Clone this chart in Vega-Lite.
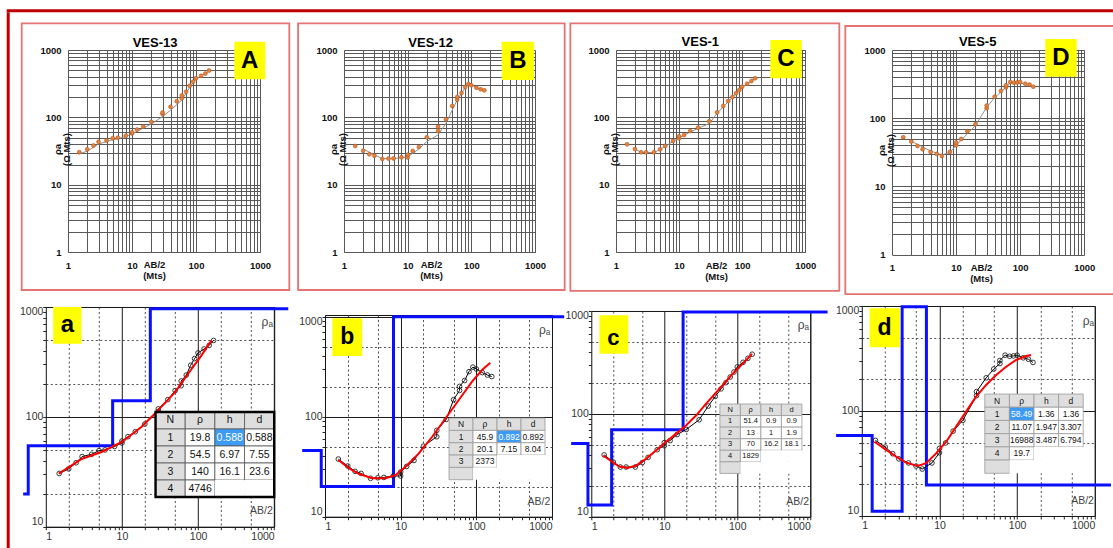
{
"$schema": "https://vega.github.io/schema/vega-lite/v6.json",
"padding": {"left": 6.7, "top": 9.3, "right": 0, "bottom": 0},
"background": "white",
"config": {"view": {"stroke": null}, "font": "Liberation Sans"},
"datasets": {
"obs": [
{"ves":"VES-13","ab2":1.5,"rho":30.5},{"ves":"VES-13","ab2":2,"rho":33.6},{"ves":"VES-13","ab2":2.5,"rho":38.2},{"ves":"VES-13","ab2":3,"rho":43.5},{"ves":"VES-13","ab2":4,"rho":45.6},{"ves":"VES-13","ab2":5,"rho":49.3},{"ves":"VES-13","ab2":6,"rho":50},{"ves":"VES-13","ab2":8,"rho":53.7},{"ves":"VES-13","ab2":10,"rho":57.8},{"ves":"VES-13","ab2":10,"rho":60.3},{"ves":"VES-13","ab2":12,"rho":66},{"ves":"VES-13","ab2":15,"rho":73.3},{"ves":"VES-13","ab2":20,"rho":86},{"ves":"VES-13","ab2":30,"rho":112},{"ves":"VES-13","ab2":30,"rho":118},{"ves":"VES-13","ab2":40,"rho":143.5},{"ves":"VES-13","ab2":50,"rho":173.5},{"ves":"VES-13","ab2":60,"rho":192},{"ves":"VES-13","ab2":60,"rho":212},{"ves":"VES-13","ab2":70,"rho":240},{"ves":"VES-13","ab2":80,"rho":295},{"ves":"VES-13","ab2":90,"rho":339},{"ves":"VES-13","ab2":100,"rho":382},{"ves":"VES-13","ab2":120,"rho":415},{"ves":"VES-13","ab2":140,"rho":447},{"ves":"VES-13","ab2":160,"rho":496},
{"ves":"VES-12","ab2":1.5,"rho":37.7},{"ves":"VES-12","ab2":2,"rho":32.1},{"ves":"VES-12","ab2":2.5,"rho":28.4},{"ves":"VES-12","ab2":3,"rho":27.1},{"ves":"VES-12","ab2":4,"rho":24.2},{"ves":"VES-12","ab2":5,"rho":24.5},{"ves":"VES-12","ab2":6,"rho":24.7},{"ves":"VES-12","ab2":8,"rho":25.6},{"ves":"VES-12","ab2":10,"rho":25.5},{"ves":"VES-12","ab2":10,"rho":28},{"ves":"VES-12","ab2":12,"rho":31.8},{"ves":"VES-12","ab2":15,"rho":36.5},{"ves":"VES-12","ab2":20,"rho":50.7},{"ves":"VES-12","ab2":30,"rho":63},{"ves":"VES-12","ab2":30,"rho":73},{"ves":"VES-12","ab2":40,"rho":93.8},{"ves":"VES-12","ab2":50,"rho":148},{"ves":"VES-12","ab2":60,"rho":183},{"ves":"VES-12","ab2":60,"rho":201},{"ves":"VES-12","ab2":70,"rho":230},{"ves":"VES-12","ab2":80,"rho":282},{"ves":"VES-12","ab2":90,"rho":313},{"ves":"VES-12","ab2":100,"rho":300},{"ves":"VES-12","ab2":120,"rho":276},{"ves":"VES-12","ab2":140,"rho":261},{"ves":"VES-12","ab2":160,"rho":252},
{"ves":"VES-1","ab2":1.5,"rho":39.9},{"ves":"VES-1","ab2":2,"rho":34},{"ves":"VES-1","ab2":2.5,"rho":30.4},{"ves":"VES-1","ab2":3,"rho":30.4},{"ves":"VES-1","ab2":4,"rho":30.4},{"ves":"VES-1","ab2":5,"rho":33.6},{"ves":"VES-1","ab2":6,"rho":37.7},{"ves":"VES-1","ab2":8,"rho":44.8},{"ves":"VES-1","ab2":10,"rho":49},{"ves":"VES-1","ab2":10,"rho":52.5},{"ves":"VES-1","ab2":12,"rho":54.9},{"ves":"VES-1","ab2":15,"rho":62.9},{"ves":"VES-1","ab2":20,"rho":70.5},{"ves":"VES-1","ab2":30,"rho":87.5},{"ves":"VES-1","ab2":40,"rho":119},{"ves":"VES-1","ab2":50,"rho":148},{"ves":"VES-1","ab2":60,"rho":175},{"ves":"VES-1","ab2":70,"rho":201},{"ves":"VES-1","ab2":80,"rho":228},{"ves":"VES-1","ab2":90,"rho":255},{"ves":"VES-1","ab2":100,"rho":286},{"ves":"VES-1","ab2":120,"rho":317},{"ves":"VES-1","ab2":140,"rho":347},{"ves":"VES-1","ab2":160,"rho":380},
{"ves":"VES-5","ab2":1.5,"rho":52.5},{"ves":"VES-5","ab2":2,"rho":45.4},{"ves":"VES-5","ab2":2.5,"rho":39.2},{"ves":"VES-5","ab2":3,"rho":35},{"ves":"VES-5","ab2":4,"rho":32},{"ves":"VES-5","ab2":5,"rho":29.9},{"ves":"VES-5","ab2":6,"rho":28},{"ves":"VES-5","ab2":8,"rho":32},{"ves":"VES-5","ab2":10,"rho":40},{"ves":"VES-5","ab2":10,"rho":44},{"ves":"VES-5","ab2":12,"rho":49.6},{"ves":"VES-5","ab2":15,"rho":64.3},{"ves":"VES-5","ab2":20,"rho":81.5},{"ves":"VES-5","ab2":30,"rho":140},{"ves":"VES-5","ab2":30,"rho":153},{"ves":"VES-5","ab2":40,"rho":207},{"ves":"VES-5","ab2":50,"rho":251},{"ves":"VES-5","ab2":60,"rho":283},{"ves":"VES-5","ab2":60,"rho":303},{"ves":"VES-5","ab2":70,"rho":340},{"ves":"VES-5","ab2":80,"rho":332},{"ves":"VES-5","ab2":90,"rho":335},{"ves":"VES-5","ab2":100,"rho":340},{"ves":"VES-5","ab2":120,"rho":321},{"ves":"VES-5","ab2":140,"rho":311},{"ves":"VES-5","ab2":160,"rho":290}
],
"tfit": [
{"ves":"VES-13","ab2":1.45,"rho":28.7},{"ves":"VES-13","ab2":2,"rho":31.5},{"ves":"VES-13","ab2":3,"rho":40.3},{"ves":"VES-13","ab2":4.7,"rho":46},{"ves":"VES-13","ab2":8,"rho":52},{"ves":"VES-13","ab2":10,"rho":57},{"ves":"VES-13","ab2":20,"rho":80},{"ves":"VES-13","ab2":30,"rho":103},{"ves":"VES-13","ab2":40,"rho":128},{"ves":"VES-13","ab2":60,"rho":181},{"ves":"VES-13","ab2":80,"rho":280},{"ves":"VES-13","ab2":100,"rho":372},{"ves":"VES-13","ab2":120,"rho":410},{"ves":"VES-13","ab2":160,"rho":482},
{"ves":"VES-12","ab2":2,"rho":34},{"ves":"VES-12","ab2":3,"rho":28},{"ves":"VES-12","ab2":4,"rho":24.5},{"ves":"VES-12","ab2":6,"rho":24.5},{"ves":"VES-12","ab2":10,"rho":26},{"ves":"VES-12","ab2":15,"rho":34},{"ves":"VES-12","ab2":20,"rho":44},{"ves":"VES-12","ab2":30,"rho":55},{"ves":"VES-12","ab2":40,"rho":82},{"ves":"VES-12","ab2":50,"rho":128},{"ves":"VES-12","ab2":60,"rho":181},{"ves":"VES-12","ab2":80,"rho":276},{"ves":"VES-12","ab2":90,"rho":320},{"ves":"VES-12","ab2":100,"rho":303},{"ves":"VES-12","ab2":140,"rho":262},{"ves":"VES-12","ab2":160,"rho":250},
{"ves":"VES-1","ab2":2,"rho":34},{"ves":"VES-1","ab2":2.5,"rho":30.4},{"ves":"VES-1","ab2":4,"rho":30},{"ves":"VES-1","ab2":6,"rho":37},{"ves":"VES-1","ab2":10,"rho":50},{"ves":"VES-1","ab2":20,"rho":69},{"ves":"VES-1","ab2":30,"rho":81},{"ves":"VES-1","ab2":40,"rho":115},{"ves":"VES-1","ab2":60,"rho":171},{"ves":"VES-1","ab2":100,"rho":280},{"ves":"VES-1","ab2":160,"rho":380},
{"ves":"VES-5","ab2":2,"rho":46},{"ves":"VES-5","ab2":4,"rho":33},{"ves":"VES-5","ab2":6,"rho":29},{"ves":"VES-5","ab2":8,"rho":31.5},{"ves":"VES-5","ab2":10,"rho":40},{"ves":"VES-5","ab2":20,"rho":78},{"ves":"VES-5","ab2":30,"rho":145},{"ves":"VES-5","ab2":40,"rho":200},{"ves":"VES-5","ab2":60,"rho":283},{"ves":"VES-5","ab2":70,"rho":330},{"ves":"VES-5","ab2":100,"rho":328},{"ves":"VES-5","ab2":160,"rho":290}
],
"rfit": [
{"ves":"VES-13","ab2":1.48,"rho":30.4},{"ves":"VES-13","ab2":3,"rho":41.6},{"ves":"VES-13","ab2":5.4,"rho":47.9},{"ves":"VES-13","ab2":10,"rho":59},{"ves":"VES-13","ab2":18,"rho":80.7},{"ves":"VES-13","ab2":30,"rho":115},{"ves":"VES-13","ab2":50,"rho":168},{"ves":"VES-13","ab2":74,"rho":247},{"ves":"VES-13","ab2":111,"rho":363},{"ves":"VES-13","ab2":150,"rho":498},
{"ves":"VES-12","ab2":1.5,"rho":36.9},{"ves":"VES-12","ab2":2.09,"rho":30.4},{"ves":"VES-12","ab2":2.83,"rho":26.7},{"ves":"VES-12","ab2":4.24,"rho":24.2},{"ves":"VES-12","ab2":6.35,"rho":24.2},{"ves":"VES-12","ab2":8.6,"rho":26.1},{"ves":"VES-12","ab2":11.6,"rho":31.6},{"ves":"VES-12","ab2":17.4,"rho":43},{"ves":"VES-12","ab2":26.1,"rho":63},{"ves":"VES-12","ab2":39.1,"rho":96},{"ves":"VES-12","ab2":58.6,"rho":147},{"ves":"VES-12","ab2":87.7,"rho":224},{"ves":"VES-12","ab2":119,"rho":293},{"ves":"VES-12","ab2":153,"rho":347},
{"ves":"VES-1","ab2":1.46,"rho":39.3},{"ves":"VES-1","ab2":1.96,"rho":33.8},{"ves":"VES-1","ab2":2.42,"rho":30.7},{"ves":"VES-1","ab2":3.14,"rho":29.8},{"ves":"VES-1","ab2":4.1,"rho":31.4},{"ves":"VES-1","ab2":5.61,"rho":36.5},{"ves":"VES-1","ab2":7.69,"rho":44},{"ves":"VES-1","ab2":10,"rho":51.8},{"ves":"VES-1","ab2":14.4,"rho":63.9},{"ves":"VES-1","ab2":19.8,"rho":76.9},{"ves":"VES-1","ab2":27.2,"rho":96.3},{"ves":"VES-1","ab2":37.2,"rho":125},{"ves":"VES-1","ab2":56.7,"rho":175},{"ves":"VES-1","ab2":86.3,"rho":245},{"ves":"VES-1","ab2":125,"rho":318},{"ves":"VES-1","ab2":159,"rho":383},
{"ves":"VES-5","ab2":1.46,"rho":51},{"ves":"VES-5","ab2":2.06,"rho":42.6},{"ves":"VES-5","ab2":2.77,"rho":36.8},{"ves":"VES-5","ab2":3.72,"rho":32.2},{"ves":"VES-5","ab2":5.26,"rho":29.9},{"ves":"VES-5","ab2":6.73,"rho":31.8},{"ves":"VES-5","ab2":9.06,"rho":39.5},{"ves":"VES-5","ab2":12.2,"rho":51},{"ves":"VES-5","ab2":16.4,"rho":71},{"ves":"VES-5","ab2":22,"rho":98.6},{"ves":"VES-5","ab2":29.6,"rho":137},{"ves":"VES-5","ab2":39.9,"rho":177},{"ves":"VES-5","ab2":53.7,"rho":220},{"ves":"VES-5","ab2":72.1,"rho":264},{"ves":"VES-5","ab2":97,"rho":306},{"ves":"VES-5","ab2":131,"rho":334},{"ves":"VES-5","ab2":151,"rho":341}
],
"model": [
{"ves":"VES-13","ord":1,"ab2":0.504,"rho":19.8},{"ves":"VES-13","ord":2,"ab2":0.588,"rho":19.8},{"ves":"VES-13","ord":3,"ab2":0.588,"rho":54.5},{"ves":"VES-13","ord":4,"ab2":7.55,"rho":54.5},{"ves":"VES-13","ord":5,"ab2":7.55,"rho":140},{"ves":"VES-13","ord":6,"ab2":23.6,"rho":140},{"ves":"VES-13","ord":7,"ab2":23.6,"rho":966},{"ves":"VES-13","ord":8,"ab2":1530,"rho":966},
{"ves":"VES-12","ord":1,"ab2":0.5,"rho":45.9},{"ves":"VES-12","ord":2,"ab2":0.892,"rho":45.9},{"ves":"VES-12","ord":3,"ab2":0.892,"rho":20.1},{"ves":"VES-12","ord":4,"ab2":8.04,"rho":20.1},{"ves":"VES-12","ord":5,"ab2":8.04,"rho":1000},{"ves":"VES-12","ord":6,"ab2":1450,"rho":1000},
{"ves":"VES-1","ord":1,"ab2":0.53,"rho":51.4},{"ves":"VES-1","ord":2,"ab2":0.9,"rho":51.4},{"ves":"VES-1","ord":3,"ab2":0.9,"rho":13},{"ves":"VES-1","ord":4,"ab2":1.9,"rho":13},{"ves":"VES-1","ord":5,"ab2":1.9,"rho":70},{"ves":"VES-1","ord":6,"ab2":18.1,"rho":70},{"ves":"VES-1","ord":7,"ab2":18.1,"rho":978},{"ves":"VES-1","ord":8,"ab2":1725,"rho":978},
{"ves":"VES-5","ord":1,"ab2":0.467,"rho":58.49},{"ves":"VES-5","ord":2,"ab2":1.36,"rho":58.49},{"ves":"VES-5","ord":3,"ab2":1.36,"rho":11.07},{"ves":"VES-5","ord":4,"ab2":3.307,"rho":11.07},{"ves":"VES-5","ord":5,"ab2":3.307,"rho":985},{"ves":"VES-5","ord":6,"ab2":6.794,"rho":985},{"ves":"VES-5","ord":7,"ab2":6.794,"rho":19.7},{"ves":"VES-5","ord":8,"ab2":1617,"rho":19.7}
],
"cells": [
{"panel":"a","row":"H","col":"N","txt":"N","kind":"head"},{"panel":"a","row":"H","col":"ρ","txt":"ρ","kind":"head"},{"panel":"a","row":"H","col":"h","txt":"h","kind":"head"},{"panel":"a","row":"H","col":"d","txt":"d","kind":"head"},
{"panel":"a","row":"1","col":"N","txt":"1","kind":"idx"},{"panel":"a","row":"1","col":"ρ","txt":"19.8","kind":"val"},{"panel":"a","row":"1","col":"h","txt":"0.588","kind":"sel"},{"panel":"a","row":"1","col":"d","txt":"0.588","kind":"val"},
{"panel":"a","row":"2","col":"N","txt":"2","kind":"idx"},{"panel":"a","row":"2","col":"ρ","txt":"54.5","kind":"val"},{"panel":"a","row":"2","col":"h","txt":"6.97","kind":"val"},{"panel":"a","row":"2","col":"d","txt":"7.55","kind":"val"},
{"panel":"a","row":"3","col":"N","txt":"3","kind":"idx"},{"panel":"a","row":"3","col":"ρ","txt":"140","kind":"val"},{"panel":"a","row":"3","col":"h","txt":"16.1","kind":"val"},{"panel":"a","row":"3","col":"d","txt":"23.6","kind":"val"},
{"panel":"a","row":"4","col":"N","txt":"4","kind":"idx"},{"panel":"a","row":"4","col":"ρ","txt":"4746","kind":"val"},{"panel":"a","row":"4","col":"h","txt":"","kind":"blank"},{"panel":"a","row":"4","col":"d","txt":"","kind":"blank"},
{"panel":"b","row":"H","col":"N","txt":"N","kind":"head"},{"panel":"b","row":"H","col":"ρ","txt":"ρ","kind":"head"},{"panel":"b","row":"H","col":"h","txt":"h","kind":"head"},{"panel":"b","row":"H","col":"d","txt":"d","kind":"head"},
{"panel":"b","row":"1","col":"N","txt":"1","kind":"idx"},{"panel":"b","row":"1","col":"ρ","txt":"45.9","kind":"val"},{"panel":"b","row":"1","col":"h","txt":"0.892","kind":"sel"},{"panel":"b","row":"1","col":"d","txt":"0.892","kind":"val"},
{"panel":"b","row":"2","col":"N","txt":"2","kind":"idx"},{"panel":"b","row":"2","col":"ρ","txt":"20.1","kind":"val"},{"panel":"b","row":"2","col":"h","txt":"7.15","kind":"val"},{"panel":"b","row":"2","col":"d","txt":"8.04","kind":"val"},
{"panel":"b","row":"3","col":"N","txt":"3","kind":"idx"},{"panel":"b","row":"3","col":"ρ","txt":"2373","kind":"val"},{"panel":"b","row":"3","col":"h","txt":"","kind":"blank"},{"panel":"b","row":"3","col":"d","txt":"","kind":"blank"},
{"panel":"b","row":"E","col":"N","txt":"","kind":"idx"},{"panel":"b","row":"E","col":"ρ","txt":"","kind":"blank"},{"panel":"b","row":"E","col":"h","txt":"","kind":"blank"},{"panel":"b","row":"E","col":"d","txt":"","kind":"blank"},
{"panel":"c","row":"H","col":"N","txt":"N","kind":"head"},{"panel":"c","row":"H","col":"ρ","txt":"ρ","kind":"head"},{"panel":"c","row":"H","col":"h","txt":"h","kind":"head"},{"panel":"c","row":"H","col":"d","txt":"d","kind":"head"},
{"panel":"c","row":"1","col":"N","txt":"1","kind":"idx"},{"panel":"c","row":"1","col":"ρ","txt":"51.4","kind":"val"},{"panel":"c","row":"1","col":"h","txt":"0.9","kind":"val"},{"panel":"c","row":"1","col":"d","txt":"0.9","kind":"val"},
{"panel":"c","row":"2","col":"N","txt":"2","kind":"idx"},{"panel":"c","row":"2","col":"ρ","txt":"13","kind":"val"},{"panel":"c","row":"2","col":"h","txt":"1","kind":"val"},{"panel":"c","row":"2","col":"d","txt":"1.9","kind":"val"},
{"panel":"c","row":"3","col":"N","txt":"3","kind":"idx"},{"panel":"c","row":"3","col":"ρ","txt":"70","kind":"val"},{"panel":"c","row":"3","col":"h","txt":"16.2","kind":"val"},{"panel":"c","row":"3","col":"d","txt":"18.1","kind":"val"},
{"panel":"c","row":"4","col":"N","txt":"4","kind":"idx"},{"panel":"c","row":"4","col":"ρ","txt":"1829","kind":"val"},{"panel":"c","row":"4","col":"h","txt":"","kind":"blank"},{"panel":"c","row":"4","col":"d","txt":"","kind":"blank"},
{"panel":"c","row":"E","col":"N","txt":"","kind":"idx"},{"panel":"c","row":"E","col":"ρ","txt":"","kind":"blank"},{"panel":"c","row":"E","col":"h","txt":"","kind":"blank"},{"panel":"c","row":"E","col":"d","txt":"","kind":"blank"},
{"panel":"d","row":"H","col":"N","txt":"N","kind":"head"},{"panel":"d","row":"H","col":"ρ","txt":"ρ","kind":"head"},{"panel":"d","row":"H","col":"h","txt":"h","kind":"head"},{"panel":"d","row":"H","col":"d","txt":"d","kind":"head"},
{"panel":"d","row":"1","col":"N","txt":"1","kind":"idx"},{"panel":"d","row":"1","col":"ρ","txt":"58.49","kind":"sel"},{"panel":"d","row":"1","col":"h","txt":"1.36","kind":"val"},{"panel":"d","row":"1","col":"d","txt":"1.36","kind":"val"},
{"panel":"d","row":"2","col":"N","txt":"2","kind":"idx"},{"panel":"d","row":"2","col":"ρ","txt":"11.07","kind":"val"},{"panel":"d","row":"2","col":"h","txt":"1.947","kind":"val"},{"panel":"d","row":"2","col":"d","txt":"3.307","kind":"val"},
{"panel":"d","row":"3","col":"N","txt":"3","kind":"idx"},{"panel":"d","row":"3","col":"ρ","txt":"16988","kind":"val"},{"panel":"d","row":"3","col":"h","txt":"3.487","kind":"val"},{"panel":"d","row":"3","col":"d","txt":"6.794","kind":"val"},
{"panel":"d","row":"4","col":"N","txt":"4","kind":"idx"},{"panel":"d","row":"4","col":"ρ","txt":"19.7","kind":"val"},{"panel":"d","row":"4","col":"h","txt":"","kind":"blank"},{"panel":"d","row":"4","col":"d","txt":"","kind":"blank"},
{"panel":"d","row":"E","col":"N","txt":"","kind":"idx"},{"panel":"d","row":"E","col":"ρ","txt":"","kind":"blank"},{"panel":"d","row":"E","col":"h","txt":"","kind":"blank"},{"panel":"d","row":"E","col":"d","txt":"","kind":"blank"}
]
},
"spacing": 0,
"vconcat": [
{"data": {"values": []}, "mark": "point", "width": 1120, "height": 3, "view": {"fill": "#c00000", "stroke": null}},
{"spacing": 6.3, "hconcat": [
 {"data": {"values": []}, "mark": "point", "width": 3, "height": 536, "view": {"fill": "#c00000", "stroke": null}},
 {"spacing": 8.7, "vconcat": [
  {"data": {"values": []}, "mark": "point", "width": 1, "height": 1},
  {"spacing": 4, "vconcat": [
   {"spacing": 0, "hconcat": [
    {"data": {"values": []}, "mark": "point", "width": 3, "height": 1},
    {"spacing": 6, "hconcat": [
    {"width": 192, "height": 202.3, "layer": [
     {"data": {"name": "tfit"}, "transform": [{"filter": "datum.ves == 'VES-13'"}], "mark": {"type": "line", "color": "#8f8f8f", "strokeWidth": 1},
      "encoding": {
       "x": {"field": "ab2", "type": "quantitative", "scale": {"type": "log", "domain": [1, 1000], "nice": false},
        "axis": {"values": [1,2,3,4,5,6,7,8,9,10,20,30,40,50,60,70,80,90,100,200,300,400,500,600,700,800,900,1000], "labelExpr": "indexof([1,10,100,1000], datum.value) >= 0 ? format(datum.value, 'd') : ''", "labelOverlap": false, "labelFlush": false, "grid": true, "gridColor": "#575757", "gridWidth": 1, "ticks": false, "domain": false, "labelFontWeight": "bold", "labelFontSize": 9.5, "labelColor": "#111", "labelPadding": 8, "title": ["AB/2", "(Mts)"], "titleFontSize": 9.5, "titleFontWeight": "bold", "titleColor": "#111", "titleX": 86, "titleY": 7, "titleAlign": "center", "titleBaseline": "top", "titleLineHeight": 11}},
       "y": {"field": "rho", "type": "quantitative", "scale": {"type": "log", "domain": [1, 1000], "nice": false},
        "axis": {"values": [1,2,3,4,5,6,7,8,9,10,20,30,40,50,60,70,80,90,100,200,300,400,500,600,700,800,900,1000], "labelExpr": "indexof([1,10,100,1000], datum.value) >= 0 ? format(datum.value, 'd') : ''", "labelOverlap": false, "labelFlush": false, "grid": true, "gridColor": "#575757", "gridWidth": 1, "ticks": false, "domain": false, "labelFontWeight": "bold", "labelFontSize": 9.5, "labelColor": "#111", "labelPadding": 7, "title": ["ρa", "(Ω Mts)"], "titleFontSize": 9.5, "titleFontWeight": "bold", "titleColor": "#111", "titleAngle": -90, "titleX": -5, "titleY": 99, "titleAlign": "center", "titleBaseline": "bottom", "titleLineHeight": 9}}}},
     {"data": {"name": "obs"}, "transform": [{"filter": "datum.ves == 'VES-13'"}], "mark": {"type": "point", "filled": true, "size": 16, "color": "#e8803a", "stroke": "#a0501e", "strokeWidth": 0.5, "opacity": 1},
      "encoding": {"x": {"field": "ab2", "type": "quantitative", "scale": {"type": "log", "domain": [1, 1000], "nice": false}}, "y": {"field": "rho", "type": "quantitative", "scale": {"type": "log", "domain": [1, 1000], "nice": false}}}},
     {"data": {"values": [{}]}, "mark": {"type": "rect", "filled": false, "color": "#e57373", "strokeWidth": 1.8},
      "encoding": {"x": {"datum": 0.189, "type": "quantitative", "scale": {"type": "log", "domain": [1, 1000], "nice": false}}, "x2": {"datum": 2870}, "y": {"datum": 2490, "type": "quantitative", "scale": {"type": "log", "domain": [1, 1000], "nice": false}}, "y2": {"datum": 0.276}}},
     {"data": {"values": [{}]}, "mark": {"type": "rect", "color": "#ffff00"},
      "encoding": {"x": {"datum": 397, "type": "quantitative", "scale": {"type": "log", "domain": [1, 1000], "nice": false}}, "x2": {"datum": 1210}, "y": {"datum": 1328, "type": "quantitative", "scale": {"type": "log", "domain": [1, 1000], "nice": false}}, "y2": {"datum": 367}}},
     {"data": {"values": [{}]}, "mark": {"type": "text", "fontSize": 24, "fontWeight": "bold", "color": "#000", "align": "center", "baseline": "middle"},
      "encoding": {"text": {"value": "A"}, "x": {"datum": 692, "type": "quantitative", "scale": {"type": "log", "domain": [1, 1000], "nice": false}}, "y": {"datum": 698, "type": "quantitative", "scale": {"type": "log", "domain": [1, 1000], "nice": false}}}},
     {"data": {"values": [{}]}, "mark": {"type": "text", "fontSize": 13, "fontWeight": "bold", "color": "#000", "align": "center", "baseline": "middle"},
      "encoding": {"text": {"value": "VES-13"}, "x": {"datum": 22.9, "type": "quantitative", "scale": {"type": "log", "domain": [1, 1000], "nice": false}}, "y": {"datum": 1284, "type": "quantitative", "scale": {"type": "log", "domain": [1, 1000], "nice": false}}}}
    ]},
    {"spacing": 3, "hconcat": [
     {"width": 191, "height": 202.3, "layer": [
      {"data": {"name": "tfit"}, "transform": [{"filter": "datum.ves == 'VES-12'"}], "mark": {"type": "line", "color": "#8f8f8f", "strokeWidth": 1},
       "encoding": {
        "x": {"field": "ab2", "type": "quantitative", "scale": {"type": "log", "domain": [1, 1000], "nice": false},
         "axis": {"values": [1,2,3,4,5,6,7,8,9,10,20,30,40,50,60,70,80,90,100,200,300,400,500,600,700,800,900,1000], "labelExpr": "indexof([1,10,100,1000], datum.value) >= 0 ? format(datum.value, 'd') : ''", "labelOverlap": false, "labelFlush": false, "grid": true, "gridColor": "#575757", "gridWidth": 1, "ticks": false, "domain": false, "labelFontWeight": "bold", "labelFontSize": 9.5, "labelColor": "#111", "labelPadding": 8, "title": ["AB/2", "(Mts)"], "titleFontSize": 9.5, "titleFontWeight": "bold", "titleColor": "#111", "titleX": 87, "titleY": 7, "titleAlign": "center", "titleBaseline": "top", "titleLineHeight": 11}},
        "y": {"field": "rho", "type": "quantitative", "scale": {"type": "log", "domain": [1, 1000], "nice": false},
         "axis": {"values": [1,2,3,4,5,6,7,8,9,10,20,30,40,50,60,70,80,90,100,200,300,400,500,600,700,800,900,1000], "labelExpr": "indexof([1,10,100,1000], datum.value) >= 0 ? format(datum.value, 'd') : ''", "labelOverlap": false, "labelFlush": false, "grid": true, "gridColor": "#575757", "gridWidth": 1, "ticks": false, "domain": false, "labelFontWeight": "bold", "labelFontSize": 9.5, "labelColor": "#111", "labelPadding": 7, "title": ["ρa", "(Ω Mts)"], "titleFontSize": 9.5, "titleFontWeight": "bold", "titleColor": "#111", "titleAngle": -90, "titleX": -5, "titleY": 99, "titleAlign": "center", "titleBaseline": "bottom", "titleLineHeight": 9}}}},
      {"data": {"name": "obs"}, "transform": [{"filter": "datum.ves == 'VES-12'"}], "mark": {"type": "point", "filled": true, "size": 16, "color": "#e8803a", "stroke": "#a0501e", "strokeWidth": 0.5, "opacity": 1},
       "encoding": {"x": {"field": "ab2", "type": "quantitative", "scale": {"type": "log", "domain": [1, 1000], "nice": false}}, "y": {"field": "rho", "type": "quantitative", "scale": {"type": "log", "domain": [1, 1000], "nice": false}}}},
      {"data": {"values": [{}]}, "mark": {"type": "rect", "filled": false, "color": "#e57373", "strokeWidth": 1.8},
       "encoding": {"x": {"datum": 0.19, "type": "quantitative", "scale": {"type": "log", "domain": [1, 1000], "nice": false}}, "x2": {"datum": 2925}, "y": {"datum": 2490, "type": "quantitative", "scale": {"type": "log", "domain": [1, 1000], "nice": false}}, "y2": {"datum": 0.276}}},
      {"data": {"values": [{}]}, "mark": {"type": "rect", "color": "#ffff00"},
       "encoding": {"x": {"datum": 300, "type": "quantitative", "scale": {"type": "log", "domain": [1, 1000], "nice": false}}, "x2": {"datum": 964}, "y": {"datum": 1328, "type": "quantitative", "scale": {"type": "log", "domain": [1, 1000], "nice": false}}, "y2": {"datum": 359}}},
      {"data": {"values": [{}]}, "mark": {"type": "text", "fontSize": 24, "fontWeight": "bold", "color": "#000", "align": "center", "baseline": "middle"},
       "encoding": {"text": {"value": "B"}, "x": {"datum": 538, "type": "quantitative", "scale": {"type": "log", "domain": [1, 1000], "nice": false}}, "y": {"datum": 692, "type": "quantitative", "scale": {"type": "log", "domain": [1, 1000], "nice": false}}}},
      {"data": {"values": [{}]}, "mark": {"type": "text", "fontSize": 13, "fontWeight": "bold", "color": "#000", "align": "center", "baseline": "middle"},
       "encoding": {"text": {"value": "VES-12"}, "x": {"datum": 23, "type": "quantitative", "scale": {"type": "log", "domain": [1, 1000], "nice": false}}, "y": {"datum": 1284, "type": "quantitative", "scale": {"type": "log", "domain": [1, 1000], "nice": false}}}}
     ]},
     {"spacing": 3, "hconcat": [
      {"width": 189.3, "height": 202.3, "layer": [
       {"data": {"name": "tfit"}, "transform": [{"filter": "datum.ves == 'VES-1'"}], "mark": {"type": "line", "color": "#8f8f8f", "strokeWidth": 1},
        "encoding": {
         "x": {"field": "ab2", "type": "quantitative", "scale": {"type": "log", "domain": [1, 1000], "nice": false},
          "axis": {"values": [1,2,3,4,5,6,7,8,9,10,20,30,40,50,60,70,80,90,100,200,300,400,500,600,700,800,900,1000], "labelExpr": "indexof([1,10,100,1000], datum.value) >= 0 ? format(datum.value, 'd') : ''", "labelOverlap": false, "labelFlush": false, "grid": true, "gridColor": "#575757", "gridWidth": 1, "ticks": false, "domain": false, "labelFontWeight": "bold", "labelFontSize": 9.5, "labelColor": "#111", "labelPadding": 8, "title": ["AB/2", "(Mts)"], "titleFontSize": 9.5, "titleFontWeight": "bold", "titleColor": "#111", "titleX": 100, "titleY": 8, "titleAlign": "center", "titleBaseline": "top", "titleLineHeight": 11}},
         "y": {"field": "rho", "type": "quantitative", "scale": {"type": "log", "domain": [1, 1000], "nice": false},
          "axis": {"values": [1,2,3,4,5,6,7,8,9,10,20,30,40,50,60,70,80,90,100,200,300,400,500,600,700,800,900,1000], "labelExpr": "indexof([1,10,100,1000], datum.value) >= 0 ? format(datum.value, 'd') : ''", "labelOverlap": false, "labelFlush": false, "grid": true, "gridColor": "#575757", "gridWidth": 1, "ticks": false, "domain": false, "labelFontWeight": "bold", "labelFontSize": 9.5, "labelColor": "#111", "labelPadding": 7, "title": ["ρa", "(Ω Mts)"], "titleFontSize": 9.5, "titleFontWeight": "bold", "titleColor": "#111", "titleAngle": -90, "titleX": -5, "titleY": 99, "titleAlign": "center", "titleBaseline": "bottom", "titleLineHeight": 9}}}},
       {"data": {"name": "obs"}, "transform": [{"filter": "datum.ves == 'VES-1'"}], "mark": {"type": "point", "filled": true, "size": 16, "color": "#e8803a", "stroke": "#a0501e", "strokeWidth": 0.5, "opacity": 1},
        "encoding": {"x": {"field": "ab2", "type": "quantitative", "scale": {"type": "log", "domain": [1, 1000], "nice": false}}, "y": {"field": "rho", "type": "quantitative", "scale": {"type": "log", "domain": [1, 1000], "nice": false}}}},
       {"data": {"values": [{}]}, "mark": {"type": "rect", "filled": false, "color": "#e57373", "strokeWidth": 1.8},
        "encoding": {"x": {"datum": 0.189, "type": "quantitative", "scale": {"type": "log", "domain": [1, 1000], "nice": false}}, "x2": {"datum": 3460}, "y": {"datum": 2490, "type": "quantitative", "scale": {"type": "log", "domain": [1, 1000], "nice": false}}, "y2": {"datum": 0.267}}},
       {"data": {"values": [{}]}, "mark": {"type": "rect", "color": "#ffff00"},
        "encoding": {"x": {"datum": 279, "type": "quantitative", "scale": {"type": "log", "domain": [1, 1000], "nice": false}}, "x2": {"datum": 877}, "y": {"datum": 1406, "type": "quantitative", "scale": {"type": "log", "domain": [1, 1000], "nice": false}}, "y2": {"datum": 380}}},
       {"data": {"values": [{}]}, "mark": {"type": "text", "fontSize": 24, "fontWeight": "bold", "color": "#000", "align": "center", "baseline": "middle"},
        "encoding": {"text": {"value": "C"}, "x": {"datum": 494, "type": "quantitative", "scale": {"type": "log", "domain": [1, 1000], "nice": false}}, "y": {"datum": 733, "type": "quantitative", "scale": {"type": "log", "domain": [1, 1000], "nice": false}}}},
       {"data": {"values": [{}]}, "mark": {"type": "text", "fontSize": 13, "fontWeight": "bold", "color": "#000", "align": "center", "baseline": "middle"},
        "encoding": {"text": {"value": "VES-1"}, "x": {"datum": 21.7, "type": "quantitative", "scale": {"type": "log", "domain": [1, 1000], "nice": false}}, "y": {"datum": 1333, "type": "quantitative", "scale": {"type": "log", "domain": [1, 1000], "nice": false}}}}
      ]},
      {"width": 192.3, "height": 204.6, "layer": [
       {"data": {"name": "tfit"}, "transform": [{"filter": "datum.ves == 'VES-5'"}], "mark": {"type": "line", "color": "#8f8f8f", "strokeWidth": 1},
        "encoding": {
         "x": {"field": "ab2", "type": "quantitative", "scale": {"type": "log", "domain": [1, 1000], "nice": false},
          "axis": {"values": [1,2,3,4,5,6,7,8,9,10,20,30,40,50,60,70,80,90,100,200,300,400,500,600,700,800,900,1000], "labelExpr": "indexof([1,10,100,1000], datum.value) >= 0 ? format(datum.value, 'd') : ''", "labelOverlap": false, "labelFlush": false, "grid": true, "gridColor": "#575757", "gridWidth": 1, "ticks": false, "domain": false, "labelFontWeight": "bold", "labelFontSize": 9.5, "labelColor": "#111", "labelPadding": 8, "title": ["AB/2", "(Mts)"], "titleFontSize": 9.5, "titleFontWeight": "bold", "titleColor": "#111", "titleX": 89, "titleY": 8, "titleAlign": "center", "titleBaseline": "top", "titleLineHeight": 11}},
         "y": {"field": "rho", "type": "quantitative", "scale": {"type": "log", "domain": [1, 1000], "nice": false},
          "axis": {"values": [1,2,3,4,5,6,7,8,9,10,20,30,40,50,60,70,80,90,100,200,300,400,500,600,700,800,900,1000], "labelExpr": "indexof([1,10,100,1000], datum.value) >= 0 ? format(datum.value, 'd') : ''", "labelOverlap": false, "labelFlush": false, "grid": true, "gridColor": "#575757", "gridWidth": 1, "ticks": false, "domain": false, "labelFontWeight": "bold", "labelFontSize": 9.5, "labelColor": "#111", "labelPadding": 7, "title": ["ρa", "(Ω Mts)"], "titleFontSize": 9.5, "titleFontWeight": "bold", "titleColor": "#111", "titleAngle": -90, "titleX": -5, "titleY": 100, "titleAlign": "center", "titleBaseline": "bottom", "titleLineHeight": 9}}}},
       {"data": {"name": "obs"}, "transform": [{"filter": "datum.ves == 'VES-5'"}], "mark": {"type": "point", "filled": true, "size": 16, "color": "#e8803a", "stroke": "#a0501e", "strokeWidth": 0.5, "opacity": 1},
        "encoding": {"x": {"field": "ab2", "type": "quantitative", "scale": {"type": "log", "domain": [1, 1000], "nice": false}}, "y": {"field": "rho", "type": "quantitative", "scale": {"type": "log", "domain": [1, 1000], "nice": false}}}},
       {"data": {"values": [{}]}, "mark": {"type": "rect", "filled": false, "color": "#e57373", "strokeWidth": 1.8},
        "encoding": {"x": {"datum": 0.187, "type": "quantitative", "scale": {"type": "log", "domain": [1, 1000], "nice": false}}, "x2": {"datum": 3125}, "y": {"datum": 2250, "type": "quantitative", "scale": {"type": "log", "domain": [1, 1000], "nice": false}}, "y2": {"datum": 0.264}}},
       {"data": {"values": [{}]}, "mark": {"type": "rect", "color": "#ffff00"},
        "encoding": {"x": {"datum": 246, "type": "quantitative", "scale": {"type": "log", "domain": [1, 1000], "nice": false}}, "x2": {"datum": 761}, "y": {"datum": 1449, "type": "quantitative", "scale": {"type": "log", "domain": [1, 1000], "nice": false}}, "y2": {"datum": 407}}},
       {"data": {"values": [{}]}, "mark": {"type": "text", "fontSize": 24, "fontWeight": "bold", "color": "#000", "align": "center", "baseline": "middle"},
        "encoding": {"text": {"value": "D"}, "x": {"datum": 433, "type": "quantitative", "scale": {"type": "log", "domain": [1, 1000], "nice": false}}, "y": {"datum": 769, "type": "quantitative", "scale": {"type": "log", "domain": [1, 1000], "nice": false}}}},
       {"data": {"values": [{}]}, "mark": {"type": "text", "fontSize": 13, "fontWeight": "bold", "color": "#000", "align": "center", "baseline": "middle"},
        "encoding": {"text": {"value": "VES-5"}, "x": {"datum": 21.7, "type": "quantitative", "scale": {"type": "log", "domain": [1, 1000], "nice": false}}, "y": {"datum": 1297, "type": "quantitative", "scale": {"type": "log", "domain": [1, 1000], "nice": false}}}}
      ]}
     ]}
    ]}
    ]}
   ]},
   {"spacing": -2.2, "hconcat": [
    {"data": {"values": []}, "mark": "point", "width": 1, "height": 1},
    {"spacing": 0.2, "hconcat": [
    {"spacing": 0, "vconcat": [
     {"data": {"values": []}, "mark": "point", "width": 1, "height": 3},
     {"width": 228.4, "height": 219.7, "view": {"stroke": "#111", "strokeWidth": 1},
      "resolve": {"scale": {"x": "independent", "y": "independent"}},
      "layer": [
       {"layer": [
        {"data": {"name": "model"}, "transform": [{"filter": "datum.ves == 'VES-13'"}], "mark": {"type": "line", "color": "#0a10ff", "strokeWidth": 3},
         "encoding": {
          "x": {"field": "ab2", "type": "quantitative", "scale": {"type": "log", "domain": [1, 1000], "nice": false},
           "axis": {"values": [1,2,3,4,5,6,7,8,9,10,20,30,40,50,60,70,80,90,100,200,300,400,500,600,700,800,900,1000], "labelExpr": "indexof([1,10,100,1000], datum.value) >= 0 ? format(datum.value, 'd') : ''", "labelOverlap": false, "labelFlush": 3, "minExtent": 0, "grid": true, "gridColor": {"condition": {"test": "indexof([10,100,1000], datum.value) >= 0", "value": "#1a1a1a"}, "value": "#4d4d4d"}, "gridDash": {"condition": {"test": "indexof([10,100,1000], datum.value) >= 0", "value": []}, "value": [2, 2.5]}, "gridOpacity": {"condition": {"test": "indexof([2,5,10,20,50,100,200,500,1000], datum.value) >= 0", "value": 1}, "value": 0}, "ticks": true, "tickSize": 3, "tickColor": "#222", "domain": false, "labelFontSize": 10.5, "labelColor": "#333", "labelPadding": 2, "title": null}},
          "y": {"field": "rho", "type": "quantitative", "scale": {"type": "log", "domain": [10, 1000], "nice": false},
           "axis": {"values": [10,20,30,40,50,60,70,80,90,100,200,300,400,500,600,700,800,900,1000], "labelExpr": "indexof([1,10,100,1000], datum.value) >= 0 ? format(datum.value, 'd') : ''", "labelOverlap": false, "labelFlush": 3, "minExtent": 0, "grid": true, "gridColor": {"condition": {"test": "indexof([10,100,1000], datum.value) >= 0", "value": "#1a1a1a"}, "value": "#4d4d4d"}, "gridDash": {"condition": {"test": "indexof([10,100,1000], datum.value) >= 0", "value": []}, "value": [2, 2.5]}, "gridOpacity": {"condition": {"test": "indexof([2,5,10,20,50,100,200,500,1000], datum.value) >= 0", "value": 1}, "value": 0}, "ticks": true, "tickSize": 3, "tickColor": "#222", "domain": false, "labelFontSize": 10.5, "labelColor": "#333", "labelPadding": 0, "title": null}},
          "order": {"field": "ord", "type": "quantitative"}}},
        {"data": {"name": "obs"}, "transform": [{"filter": "datum.ves == 'VES-13'"}], "mark": {"type": "line", "color": "#000", "strokeWidth": 1},
         "encoding": {"x": {"field": "ab2", "type": "quantitative", "scale": {"type": "log", "domain": [1, 1000], "nice": false}}, "y": {"field": "rho", "type": "quantitative", "scale": {"type": "log", "domain": [10, 1000], "nice": false}}}},
        {"data": {"name": "obs"}, "transform": [{"filter": "datum.ves == 'VES-13'"}], "mark": {"type": "point", "shape": "circle", "filled": false, "size": 22, "color": "#222", "strokeWidth": 0.9, "opacity": 1},
         "encoding": {"x": {"field": "ab2", "type": "quantitative", "scale": {"type": "log", "domain": [1, 1000], "nice": false}}, "y": {"field": "rho", "type": "quantitative", "scale": {"type": "log", "domain": [10, 1000], "nice": false}}}},
        {"data": {"name": "rfit"}, "transform": [{"filter": "datum.ves == 'VES-13'"}], "mark": {"type": "line", "color": "#ff0000", "strokeWidth": 2},
         "encoding": {"x": {"field": "ab2", "type": "quantitative", "scale": {"type": "log", "domain": [1, 1000], "nice": false}}, "y": {"field": "rho", "type": "quantitative", "scale": {"type": "log", "domain": [10, 1000], "nice": false}}}},
        {"data": {"values": [{}]}, "mark": {"type": "rect", "color": "#ffff00"},
         "encoding": {"x": {"datum": 1.25, "type": "quantitative", "scale": {"type": "log", "domain": [1, 1000], "nice": false}}, "x2": {"datum": 2.94}, "y": {"datum": 1000, "type": "quantitative", "scale": {"type": "log", "domain": [10, 1000], "nice": false}}, "y2": {"datum": 464}}},
        {"data": {"values": [{}]}, "mark": {"type": "text", "fontSize": 24, "fontWeight": "bold", "color": "#000", "align": "center", "baseline": "middle"},
         "encoding": {"text": {"value": "a"}, "x": {"datum": 1.93, "type": "quantitative", "scale": {"type": "log", "domain": [1, 1000], "nice": false}}, "y": {"datum": 681, "type": "quantitative", "scale": {"type": "log", "domain": [10, 1000], "nice": false}}}},
        {"data": {"values": [{}]}, "mark": {"type": "text", "fontSize": 12, "color": "#444", "align": "right", "baseline": "middle"},
         "encoding": {"text": {"value": "ρₐ"}, "x": {"datum": 960, "type": "quantitative", "scale": {"type": "log", "domain": [1, 1000], "nice": false}}, "y": {"datum": 730, "type": "quantitative", "scale": {"type": "log", "domain": [10, 1000], "nice": false}}}},
        {"data": {"values": [{}]}, "mark": {"type": "text", "fontSize": 10.5, "color": "#444", "align": "right", "baseline": "middle"},
         "encoding": {"text": {"value": "AB/2"}, "x": {"datum": 960, "type": "quantitative", "scale": {"type": "log", "domain": [1, 1000], "nice": false}}, "y": {"datum": 13.8, "type": "quantitative", "scale": {"type": "log", "domain": [10, 1000], "nice": false}}}}
       ]},
       {"data": {"name": "cells"}, "transform": [{"filter": "datum.panel == 'a'"}],
        "encoding": {
         "x": {"field": "col", "type": "nominal", "sort": null, "scale": {"domain": ["_1","_2","_3","N","ρ","h","d"], "paddingInner": 0, "paddingOuter": 0.35, "align": 1}, "axis": null},
         "y": {"field": "row", "type": "nominal", "sort": null, "scale": {"domain": ["_1","_2","_3","_4","_5","_6","H","1","2","3","4","_7"], "paddingInner": 0, "paddingOuter": 0.46, "align": 0.19}, "axis": null}},
        "layer": [
         {"mark": {"type": "rect", "stroke": "#555", "strokeWidth": 0.8},
          "encoding": {"fill": {"field": "kind", "type": "nominal", "scale": {"domain": ["head","idx","val","sel","blank"], "range": ["#dedede","#dedede","#ffffff","#3d9bf5","#ffffff"]}, "legend": null}, "strokeOpacity": {"condition": {"test": "datum.kind == 'blank'", "value": 0}, "value": 1}}},
         {"mark": {"type": "text", "fontSize": 10.5},
          "encoding": {"text": {"field": "txt"}, "color": {"condition": {"test": "datum.kind == 'sel'", "value": "#ffffff"}, "value": "#111111"}}},
         {"data": {"values": [{}]}, "mark": {"type": "rect", "filled": false, "color": "#000", "strokeWidth": 2.4},
          "encoding": {
           "x": {"datum": "N", "type": "nominal", "bandPosition": 0, "scale": {"domain": ["_1","_2","_3","N","ρ","h","d"], "paddingInner": 0, "paddingOuter": 0.35, "align": 1}, "axis": null},
           "x2": {"datum": "d", "bandPosition": 1},
           "y": {"datum": "H", "type": "nominal", "bandPosition": 0, "scale": {"domain": ["_1","_2","_3","_4","_5","_6","H","1","2","3","4","_7"], "paddingInner": 0, "paddingOuter": 0.46, "align": 0.19}, "axis": null},
           "y2": {"datum": "4", "bandPosition": 1}}}
        ]}
      ]}
    ]},
    {"spacing": -6.7, "hconcat": [
     {"spacing": 0, "vconcat": [
      {"data": {"values": []}, "mark": "point", "width": 1, "height": 11},
      {"width": 227, "height": 201.7, "view": {"stroke": "#111", "strokeWidth": 1},
       "resolve": {"scale": {"x": "independent", "y": "independent"}},
       "layer": [
        {"layer": [
         {"data": {"name": "model"}, "transform": [{"filter": "datum.ves == 'VES-12'"}], "mark": {"type": "line", "color": "#0a10ff", "strokeWidth": 3},
          "encoding": {
           "x": {"field": "ab2", "type": "quantitative", "scale": {"type": "log", "domain": [1, 1000], "nice": false},
            "axis": {"values": [1,2,3,4,5,6,7,8,9,10,20,30,40,50,60,70,80,90,100,200,300,400,500,600,700,800,900,1000], "labelExpr": "indexof([1,10,100,1000], datum.value) >= 0 ? format(datum.value, 'd') : ''", "labelOverlap": false, "labelFlush": 3, "minExtent": 0, "grid": true, "gridColor": {"condition": {"test": "indexof([10,100,1000], datum.value) >= 0", "value": "#1a1a1a"}, "value": "#4d4d4d"}, "gridDash": {"condition": {"test": "indexof([10,100,1000], datum.value) >= 0", "value": []}, "value": [2, 2.5]}, "gridOpacity": {"condition": {"test": "indexof([2,5,10,20,50,100,200,500,1000], datum.value) >= 0", "value": 1}, "value": 0}, "ticks": true, "tickSize": 3, "tickColor": "#222", "domain": false, "labelFontSize": 10.5, "labelColor": "#333", "labelPadding": 2, "title": null}},
           "y": {"field": "rho", "type": "quantitative", "scale": {"type": "log", "domain": [10, 1040], "nice": false},
            "axis": {"values": [10,20,30,40,50,60,70,80,90,100,200,300,400,500,600,700,800,900,1000], "labelExpr": "indexof([1,10,100,1000], datum.value) >= 0 ? format(datum.value, 'd') : ''", "labelOverlap": false, "labelFlush": 3, "minExtent": 0, "grid": true, "gridColor": {"condition": {"test": "indexof([10,100,1000], datum.value) >= 0", "value": "#1a1a1a"}, "value": "#4d4d4d"}, "gridDash": {"condition": {"test": "indexof([10,100,1000], datum.value) >= 0", "value": []}, "value": [2, 2.5]}, "gridOpacity": {"condition": {"test": "indexof([2,5,10,20,50,100,200,500,1000], datum.value) >= 0", "value": 1}, "value": 0}, "ticks": true, "tickSize": 3, "tickColor": "#222", "domain": false, "labelFontSize": 10.5, "labelColor": "#333", "labelPadding": 0, "title": null}},
           "order": {"field": "ord", "type": "quantitative"}}},
         {"data": {"name": "obs"}, "transform": [{"filter": "datum.ves == 'VES-12'"}], "mark": {"type": "line", "color": "#000", "strokeWidth": 1},
          "encoding": {"x": {"field": "ab2", "type": "quantitative", "scale": {"type": "log", "domain": [1, 1000], "nice": false}}, "y": {"field": "rho", "type": "quantitative", "scale": {"type": "log", "domain": [10, 1040], "nice": false}}}},
         {"data": {"name": "obs"}, "transform": [{"filter": "datum.ves == 'VES-12'"}], "mark": {"type": "point", "shape": "circle", "filled": false, "size": 22, "color": "#222", "strokeWidth": 0.9, "opacity": 1},
          "encoding": {"x": {"field": "ab2", "type": "quantitative", "scale": {"type": "log", "domain": [1, 1000], "nice": false}}, "y": {"field": "rho", "type": "quantitative", "scale": {"type": "log", "domain": [10, 1040], "nice": false}}}},
         {"data": {"name": "rfit"}, "transform": [{"filter": "datum.ves == 'VES-12'"}], "mark": {"type": "line", "color": "#ff0000", "strokeWidth": 2},
          "encoding": {"x": {"field": "ab2", "type": "quantitative", "scale": {"type": "log", "domain": [1, 1000], "nice": false}}, "y": {"field": "rho", "type": "quantitative", "scale": {"type": "log", "domain": [10, 1040], "nice": false}}}},
         {"data": {"values": [{}]}, "mark": {"type": "rect", "color": "#ffff00"},
          "encoding": {"x": {"datum": 1.25, "type": "quantitative", "scale": {"type": "log", "domain": [1, 1000], "nice": false}}, "x2": {"datum": 3.1}, "y": {"datum": 964, "type": "quantitative", "scale": {"type": "log", "domain": [10, 1040], "nice": false}}, "y2": {"datum": 405}}},
         {"data": {"values": [{}]}, "mark": {"type": "text", "fontSize": 23, "fontWeight": "bold", "color": "#000", "align": "center", "baseline": "middle"},
          "encoding": {"text": {"value": "b"}, "x": {"datum": 1.97, "type": "quantitative", "scale": {"type": "log", "domain": [1, 1000], "nice": false}}, "y": {"datum": 631, "type": "quantitative", "scale": {"type": "log", "domain": [10, 1040], "nice": false}}}},
         {"data": {"values": [{}]}, "mark": {"type": "text", "fontSize": 12, "color": "#444", "align": "right", "baseline": "middle"},
          "encoding": {"text": {"value": "ρₐ"}, "x": {"datum": 950, "type": "quantitative", "scale": {"type": "log", "domain": [1, 1000], "nice": false}}, "y": {"datum": 736, "type": "quantitative", "scale": {"type": "log", "domain": [10, 1040], "nice": false}}}},
         {"data": {"values": [{}]}, "mark": {"type": "text", "fontSize": 10.5, "color": "#444", "align": "right", "baseline": "middle"},
          "encoding": {"text": {"value": "AB/2"}, "x": {"datum": 950, "type": "quantitative", "scale": {"type": "log", "domain": [1, 1000], "nice": false}}, "y": {"datum": 14, "type": "quantitative", "scale": {"type": "log", "domain": [10, 1040], "nice": false}}}}
        ]},
        {"data": {"name": "cells"}, "transform": [{"filter": "datum.panel == 'b'"}],
         "encoding": {
          "x": {"field": "col", "type": "nominal", "sort": null, "scale": {"domain": ["_1","_2","_3","_4","_5","N","ρ","h","d"], "paddingInner": 0, "paddingOuter": 0.229, "align": 0.364}, "axis": null},
          "y": {"field": "row", "type": "nominal", "sort": null, "scale": {"domain": ["_1","_2","_3","_4","_5","_6","_7","_8","H","1","2","3","E","_9","_10","_11"], "paddingInner": 0, "paddingOuter": 0.18, "align": 1}, "axis": null}},
         "layer": [
          {"mark": {"type": "rect", "stroke": "#9a9a9a", "strokeWidth": 0.8},
           "encoding": {"fill": {"field": "kind", "type": "nominal", "scale": {"domain": ["head","idx","val","sel","blank"], "range": ["#dedede","#dedede","#ffffff","#3d9bf5","#ffffff"]}, "legend": null}, "strokeOpacity": {"condition": {"test": "datum.kind == 'blank'", "value": 0}, "value": 1}}},
          {"mark": {"type": "text", "fontSize": 8.5},
           "encoding": {"text": {"field": "txt"}, "color": {"condition": {"test": "datum.kind == 'sel'", "value": "#ffffff"}, "value": "#111111"}}}
         ]}
       ]}
     ]},
     {"spacing": -5.5, "hconcat": [
      {"spacing": 0, "vconcat": [
       {"data": {"values": []}, "mark": "point", "width": 1, "height": 6},
       {"width": 219, "height": 205.7, "view": {"stroke": "#111", "strokeWidth": 1},
        "resolve": {"scale": {"x": "independent", "y": "independent"}},
        "layer": [
         {"layer": [
          {"data": {"name": "model"}, "transform": [{"filter": "datum.ves == 'VES-1'"}], "mark": {"type": "line", "color": "#0a10ff", "strokeWidth": 3},
           "encoding": {
            "x": {"field": "ab2", "type": "quantitative", "scale": {"type": "log", "domain": [1, 1000], "nice": false},
             "axis": {"values": [1,2,3,4,5,6,7,8,9,10,20,30,40,50,60,70,80,90,100,200,300,400,500,600,700,800,900,1000], "labelExpr": "indexof([1,10,100,1000], datum.value) >= 0 ? format(datum.value, 'd') : ''", "labelOverlap": false, "labelFlush": 3, "minExtent": 0, "grid": true, "gridColor": {"condition": {"test": "indexof([10,100,1000], datum.value) >= 0", "value": "#1a1a1a"}, "value": "#4d4d4d"}, "gridDash": {"condition": {"test": "indexof([10,100,1000], datum.value) >= 0", "value": []}, "value": [2, 2.5]}, "gridOpacity": {"condition": {"test": "indexof([2,5,10,20,50,100,200,500,1000], datum.value) >= 0", "value": 1}, "value": 0}, "ticks": true, "tickSize": 3, "tickColor": "#222", "domain": false, "labelFontSize": 10.5, "labelColor": "#333", "labelPadding": 2, "title": null}},
            "y": {"field": "rho", "type": "quantitative", "scale": {"type": "log", "domain": [10, 1000], "nice": false},
             "axis": {"values": [10,20,30,40,50,60,70,80,90,100,200,300,400,500,600,700,800,900,1000], "labelExpr": "indexof([1,10,100,1000], datum.value) >= 0 ? format(datum.value, 'd') : ''", "labelOverlap": false, "labelFlush": 3, "minExtent": 0, "grid": true, "gridColor": {"condition": {"test": "indexof([10,100,1000], datum.value) >= 0", "value": "#1a1a1a"}, "value": "#4d4d4d"}, "gridDash": {"condition": {"test": "indexof([10,100,1000], datum.value) >= 0", "value": []}, "value": [2, 2.5]}, "gridOpacity": {"condition": {"test": "indexof([2,5,10,20,50,100,200,500,1000], datum.value) >= 0", "value": 1}, "value": 0}, "ticks": true, "tickSize": 3, "tickColor": "#222", "domain": false, "labelFontSize": 10.5, "labelColor": "#333", "labelPadding": 0, "title": null}},
            "order": {"field": "ord", "type": "quantitative"}}},
          {"data": {"name": "obs"}, "transform": [{"filter": "datum.ves == 'VES-1'"}], "mark": {"type": "line", "color": "#000", "strokeWidth": 1},
           "encoding": {"x": {"field": "ab2", "type": "quantitative", "scale": {"type": "log", "domain": [1, 1000], "nice": false}}, "y": {"field": "rho", "type": "quantitative", "scale": {"type": "log", "domain": [10, 1000], "nice": false}}}},
          {"data": {"name": "obs"}, "transform": [{"filter": "datum.ves == 'VES-1'"}], "mark": {"type": "point", "shape": "circle", "filled": false, "size": 22, "color": "#222", "strokeWidth": 0.9, "opacity": 1},
           "encoding": {"x": {"field": "ab2", "type": "quantitative", "scale": {"type": "log", "domain": [1, 1000], "nice": false}}, "y": {"field": "rho", "type": "quantitative", "scale": {"type": "log", "domain": [10, 1000], "nice": false}}}},
          {"data": {"name": "rfit"}, "transform": [{"filter": "datum.ves == 'VES-1'"}], "mark": {"type": "line", "color": "#ff0000", "strokeWidth": 2},
           "encoding": {"x": {"field": "ab2", "type": "quantitative", "scale": {"type": "log", "domain": [1, 1000], "nice": false}}, "y": {"field": "rho", "type": "quantitative", "scale": {"type": "log", "domain": [10, 1000], "nice": false}}}},
          {"data": {"values": [{}]}, "mark": {"type": "rect", "color": "#ffff00"},
           "encoding": {"x": {"datum": 1.29, "type": "quantitative", "scale": {"type": "log", "domain": [1, 1000], "nice": false}}, "x2": {"datum": 3.21}, "y": {"datum": 908, "type": "quantitative", "scale": {"type": "log", "domain": [10, 1000], "nice": false}}, "y2": {"datum": 385}}},
          {"data": {"values": [{}]}, "mark": {"type": "text", "fontSize": 22, "fontWeight": "bold", "color": "#000", "align": "center", "baseline": "middle"},
           "encoding": {"text": {"value": "c"}, "x": {"datum": 2.0, "type": "quantitative", "scale": {"type": "log", "domain": [1, 1000], "nice": false}}, "y": {"datum": 551, "type": "quantitative", "scale": {"type": "log", "domain": [10, 1000], "nice": false}}}},
          {"data": {"values": [{}]}, "mark": {"type": "text", "fontSize": 12, "color": "#444", "align": "right", "baseline": "middle"},
           "encoding": {"text": {"value": "ρₐ"}, "x": {"datum": 962, "type": "quantitative", "scale": {"type": "log", "domain": [1, 1000], "nice": false}}, "y": {"datum": 726, "type": "quantitative", "scale": {"type": "log", "domain": [10, 1000], "nice": false}}}},
          {"data": {"values": [{}]}, "mark": {"type": "text", "fontSize": 10.5, "color": "#444", "align": "right", "baseline": "middle"},
           "encoding": {"text": {"value": "AB/2"}, "x": {"datum": 962, "type": "quantitative", "scale": {"type": "log", "domain": [1, 1000], "nice": false}}, "y": {"datum": 13.9, "type": "quantitative", "scale": {"type": "log", "domain": [10, 1000], "nice": false}}}}
         ]},
         {"data": {"name": "cells"}, "transform": [{"filter": "datum.panel == 'c'"}],
          "encoding": {
           "x": {"field": "col", "type": "nominal", "sort": null, "scale": {"domain": ["_1","_2","_3","_4","_5","_6","N","ρ","h","d"], "paddingInner": 0, "paddingOuter": 0.34, "align": 0.4}, "axis": null},
           "y": {"field": "row", "type": "nominal", "sort": null, "scale": {"domain": ["_1","_2","_3","_4","_5","_6","_7","_8","H","1","2","3","4","E","_9","_10","_11"], "paddingInner": 0, "paddingOuter": 0.39, "align": 0.05}, "axis": null}},
          "layer": [
           {"mark": {"type": "rect", "stroke": "#9a9a9a", "strokeWidth": 0.8},
            "encoding": {"fill": {"field": "kind", "type": "nominal", "scale": {"domain": ["head","idx","val","sel","blank"], "range": ["#dedede","#dedede","#ffffff","#3d9bf5","#ffffff"]}, "legend": null}, "strokeOpacity": {"condition": {"test": "datum.kind == 'blank'", "value": 0}, "value": 1}}},
           {"mark": {"type": "text", "fontSize": 7.5},
            "encoding": {"text": {"field": "txt"}, "color": {"condition": {"test": "datum.kind == 'sel'", "value": "#ffffff"}, "value": "#111111"}}}
          ]}
        ]}
      ]},
      {"spacing": 0, "vconcat": [
       {"data": {"values": []}, "mark": "point", "width": 1, "height": 1},
       {"width": 233, "height": 210, "view": {"stroke": "#111", "strokeWidth": 1},
        "resolve": {"scale": {"x": "independent", "y": "independent"}},
        "layer": [
         {"layer": [
          {"data": {"name": "model"}, "transform": [{"filter": "datum.ves == 'VES-5'"}], "mark": {"type": "line", "color": "#0a10ff", "strokeWidth": 3},
           "encoding": {
            "x": {"field": "ab2", "type": "quantitative", "scale": {"type": "log", "domain": [1, 1000], "nice": false},
             "axis": {"values": [1,2,3,4,5,6,7,8,9,10,20,30,40,50,60,70,80,90,100,200,300,400,500,600,700,800,900,1000], "labelExpr": "indexof([1,10,100,1000], datum.value) >= 0 ? format(datum.value, 'd') : ''", "labelOverlap": false, "labelFlush": 3, "minExtent": 0, "grid": true, "gridColor": {"condition": {"test": "indexof([10,100,1000], datum.value) >= 0", "value": "#1a1a1a"}, "value": "#4d4d4d"}, "gridDash": {"condition": {"test": "indexof([10,100,1000], datum.value) >= 0", "value": []}, "value": [2, 2.5]}, "gridOpacity": {"condition": {"test": "indexof([2,5,10,20,50,100,200,500,1000], datum.value) >= 0", "value": 1}, "value": 0}, "ticks": true, "tickSize": 3, "tickColor": "#222", "domain": false, "labelFontSize": 10.5, "labelColor": "#333", "labelPadding": 2, "title": null}},
            "y": {"field": "rho", "type": "quantitative", "scale": {"type": "log", "domain": [10, 1000], "nice": false},
             "axis": {"values": [10,20,30,40,50,60,70,80,90,100,200,300,400,500,600,700,800,900,1000], "labelExpr": "indexof([1,10,100,1000], datum.value) >= 0 ? format(datum.value, 'd') : ''", "labelOverlap": false, "labelFlush": 3, "minExtent": 0, "grid": true, "gridColor": {"condition": {"test": "indexof([10,100,1000], datum.value) >= 0", "value": "#1a1a1a"}, "value": "#4d4d4d"}, "gridDash": {"condition": {"test": "indexof([10,100,1000], datum.value) >= 0", "value": []}, "value": [2, 2.5]}, "gridOpacity": {"condition": {"test": "indexof([2,5,10,20,50,100,200,500,1000], datum.value) >= 0", "value": 1}, "value": 0}, "ticks": true, "tickSize": 3, "tickColor": "#222", "domain": false, "labelFontSize": 10.5, "labelColor": "#333", "labelPadding": 0, "title": null}},
            "order": {"field": "ord", "type": "quantitative"}}},
          {"data": {"name": "obs"}, "transform": [{"filter": "datum.ves == 'VES-5'"}], "mark": {"type": "line", "color": "#000", "strokeWidth": 1},
           "encoding": {"x": {"field": "ab2", "type": "quantitative", "scale": {"type": "log", "domain": [1, 1000], "nice": false}}, "y": {"field": "rho", "type": "quantitative", "scale": {"type": "log", "domain": [10, 1000], "nice": false}}}},
          {"data": {"name": "obs"}, "transform": [{"filter": "datum.ves == 'VES-5'"}], "mark": {"type": "point", "shape": "circle", "filled": false, "size": 22, "color": "#222", "strokeWidth": 0.9, "opacity": 1},
           "encoding": {"x": {"field": "ab2", "type": "quantitative", "scale": {"type": "log", "domain": [1, 1000], "nice": false}}, "y": {"field": "rho", "type": "quantitative", "scale": {"type": "log", "domain": [10, 1000], "nice": false}}}},
          {"data": {"name": "rfit"}, "transform": [{"filter": "datum.ves == 'VES-5'"}], "mark": {"type": "line", "color": "#ff0000", "strokeWidth": 2},
           "encoding": {"x": {"field": "ab2", "type": "quantitative", "scale": {"type": "log", "domain": [1, 1000], "nice": false}}, "y": {"field": "rho", "type": "quantitative", "scale": {"type": "log", "domain": [10, 1000], "nice": false}}}},
          {"data": {"values": [{}]}, "mark": {"type": "rect", "color": "#ffff00"},
           "encoding": {"x": {"datum": 1.26, "type": "quantitative", "scale": {"type": "log", "domain": [1, 1000], "nice": false}}, "x2": {"datum": 3.11}, "y": {"datum": 950, "type": "quantitative", "scale": {"type": "log", "domain": [10, 1000], "nice": false}}, "y2": {"datum": 404}}},
          {"data": {"values": [{}]}, "mark": {"type": "text", "fontSize": 23, "fontWeight": "bold", "color": "#000", "align": "center", "baseline": "middle"},
           "encoding": {"text": {"value": "d"}, "x": {"datum": 1.96, "type": "quantitative", "scale": {"type": "log", "domain": [1, 1000], "nice": false}}, "y": {"datum": 614, "type": "quantitative", "scale": {"type": "log", "domain": [10, 1000], "nice": false}}}},
          {"data": {"values": [{}]}, "mark": {"type": "text", "fontSize": 12, "color": "#444", "align": "right", "baseline": "middle"},
           "encoding": {"text": {"value": "ρₐ"}, "x": {"datum": 975, "type": "quantitative", "scale": {"type": "log", "domain": [1, 1000], "nice": false}}, "y": {"datum": 720, "type": "quantitative", "scale": {"type": "log", "domain": [10, 1000], "nice": false}}}},
          {"data": {"values": [{}]}, "mark": {"type": "text", "fontSize": 10.5, "color": "#444", "align": "right", "baseline": "middle"},
           "encoding": {"text": {"value": "AB/2"}, "x": {"datum": 975, "type": "quantitative", "scale": {"type": "log", "domain": [1, 1000], "nice": false}}, "y": {"datum": 13.8, "type": "quantitative", "scale": {"type": "log", "domain": [10, 1000], "nice": false}}}}
         ]},
         {"data": {"name": "cells"}, "transform": [{"filter": "datum.panel == 'd'"}],
          "encoding": {
           "x": {"field": "col", "type": "nominal", "sort": null, "scale": {"domain": ["_1","_2","_3","_4","_5","N","ρ","h","d"], "paddingInner": 0, "paddingOuter": 0.235, "align": 0}, "axis": null},
           "y": {"field": "row", "type": "nominal", "sort": null, "scale": {"domain": ["_1","_2","_3","_4","_5","_6","H","1","2","3","4","E","_7","_8","_9"], "paddingInner": 0, "paddingOuter": 0.45, "align": 0.74}, "axis": null}},
          "layer": [
           {"mark": {"type": "rect", "stroke": "#9a9a9a", "strokeWidth": 0.8},
            "encoding": {"fill": {"field": "kind", "type": "nominal", "scale": {"domain": ["head","idx","val","sel","blank"], "range": ["#dedede","#dedede","#ffffff","#3d9bf5","#ffffff"]}, "legend": null}, "strokeOpacity": {"condition": {"test": "datum.kind == 'blank'", "value": 0}, "value": 1}}},
           {"mark": {"type": "text", "fontSize": 8.5},
            "encoding": {"text": {"field": "txt"}, "color": {"condition": {"test": "datum.kind == 'sel'", "value": "#ffffff"}, "value": "#111111"}}}
          ]}
        ]}
      ]}
     ]}
    ]}
    ]}
   ]}
  ]}
 ]}
]}
]
}
